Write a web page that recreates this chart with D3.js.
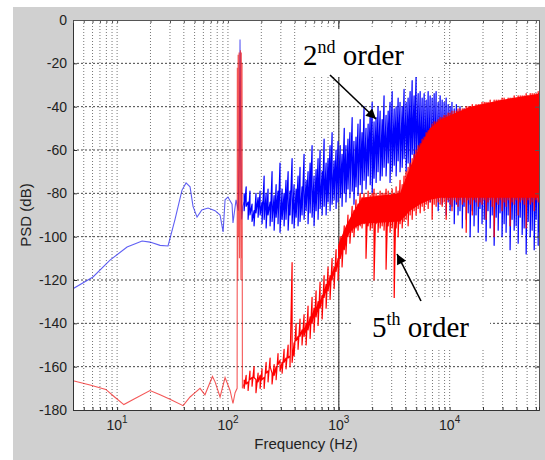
<!DOCTYPE html>
<html><head><meta charset="utf-8">
<script src="https://cdn.jsdelivr.net/npm/d3@7"></script>
<style>body{margin:0;background:#fff}svg{display:block}</style>
</head><body><svg id="c" width="545" height="460"></svg>
<script>
// ---------- data ----------
const yTicks = [0,-20,-40,-60,-80,-100,-120,-140,-160,-180];
const xTickExps = [1,2,3,4];
const xDomain = [4, 64000];

// 2nd order (blue), low-frequency part [Hz, dB]
const blueLow = [[4.0,-124],[6.06,-118.6],[8.63,-110.8],[12.3,-104.8],[16.8,-102],[19.8,-102.5],[24.4,-104],[28.8,-104.3],[33.3,-92],[38.5,-78.5],[41.9,-75.2],[45.5,-77],[48.4,-86],[52.6,-91],[58.1,-87.7],[66.1,-86.8],[76.5,-88],[84.9,-90],[90.4,-97.8],[94.2,-83],[100,-81.7],[108.9,-85],[111,-93.7],[118.3,-83],[124,-88],[126.5,-60],[128.5,-9],[130.5,-60],[133,-92],[136,-86],[140,-84]];
// 5th order (red), low-frequency part [Hz, dB]
const redLow = [[4.0,-166.5],[5.7,-168.5],[7.9,-170.5],[9.5,-174],[11.5,-177.5],[14.1,-175],[19.8,-171],[24.4,-173],[30,-175],[39.4,-178],[45.5,-174],[50.5,-172],[56,-170],[62,-173],[72.5,-164.5],[76.5,-167],[84.9,-174],[94.2,-165],[104.5,-171],[111,-177],[116,-172],[121,-170],[121.5,-22],[122.5,-120],[123.5,-16],[125,-100],[126,-15],[127,-110],[129.5,-14],[131,-120],[132,-15],[133,-110],[134,-20],[135,-170],[140,-168]];

// noisy part: common frequency bins [Hz] with max / min level per bin [dB]
const noiseFreqs = [140,146,152,158,165,172,179,187,195,203,212,221,230,240,250,261,272,283,295,308,321,334,349,363,379,395,412,429,447,466,486,507,528,551,574,598,624,650,678,707,737,768,800,834,870,907,945,985,1030,1070,1120,1160,1210,1260,1320,1370,1430,1490,1560,1620,1690,1760,1840,1920,2000,2080,2170,2260,2360,2460,2560,2670,2790,2900,3030,3160,3290,3430,3570,3730,3880,4050,4220,4400,4590,4780,4980,5200,5420,5650,5890,6140,6400,6670,6950,7250,7550,7880,8210,8560,8920,9300,9700,10100,10500,11000,11500,11900,12400,13000,13500,14100,14700,15300,16000,16600,17300,18100,18800,19600,20500,21300,22200,23200,24200,25200,26300,27400,28500,29700,31000,32300,33700,35100,36600,38200,39800,41500,43300,45100,47000,49000,51100,53300,55500,57900,60300,62900,64000];
const blueHi = [-80,-77,-84,-79,-85,-88,-80,-82,-79,-84,
 -72,-80,-78,-84,-70,-81,-76,-79,-66,-78,
 -80,-74,-70,-79,-64,-76,-78,-72,-68,-77,
 -62,-74,-70,-66,-58,-72,-69,-64,-60,-70,
 -55,-66,-64,-58,-52,-65,-60,-56,-58,-62,
 -50,-58,-55,-52,-45,-56,-54,-48,-46,-52,
 -40,-50,-48,-44,-38,-47,-45,-40,-42,-46,
 -35,-44,-42,-38,-33,-41,-40,-36,-38,-40,
 -32,-38,-36,-33,-28,-35,-26,-34,-33,-36,
 -34,-37,-33,-35,-36,-34,-33,-38,-35,-37,
 -38,-36,-39,-40,-38,-41,-39,-42,-40,-42,
 -41,-43,-42,-44,-42,-43,-44,-45,-43,-44,
 -44,-45,-43,-46,-44,-45,-46,-44,-45,-46,
 -45,-46,-44,-47,-45,-46,-47,-45,-46,-47,
 -46,-47,-45,-48,-46,-47,-48,-46,-47];
const blueLo = [-88,-86,-92,-90,-93,-95,-89,-91,-90,-94,
 -92,-96,-90,-95,-93,-97,-91,-94,-98,-92,
 -95,-92,-97,-90,-94,-96,-91,-95,-93,-90,
 -92,-88,-94,-89,-91,-95,-88,-92,-87,-90,
 -86,-90,-84,-88,-85,-83,-87,-84,-82,-86,
 -80,-84,-78,-82,-79,-85,-77,-81,-76,-80,
 -74,-78,-72,-76,-80,-73,-75,-70,-74,-72,
 -68,-72,-66,-75,-70,-67,-72,-65,-70,-68,
 -64,-70,-66,-72,-62,-68,-65,-74,-70,-76,
 -72,-80,-75,-84,-78,-82,-76,-88,-80,-85,
 -82,-90,-84,-88,-86,-94,-85,-90,-88,-96,
 -86,-92,-89,-100,-88,-95,-90,-98,-87,-94,
 -92,-102,-88,-96,-90,-104,-91,-97,-89,-100,
 -94,-98,-90,-106,-92,-97,-95,-103,-91,-99,
 -96,-108,-93,-100,-97,-106,-92,-104,-98];
const redHi = [-166,-164,-167,-162,-165,-160,-166,-163,-164,-161,
 -165,-158,-162,-156,-163,-159,-160,-154,-157,-158,
 -152,-156,-150,-155,-112,-149,-140,-146,-138,-143,
 -136,-140,-132,-137,-128,-133,-125,-130,-121,-127,
 -118,-122,-114,-118,-110,-114,-106,-110,-100,-104,
 -95,-98,-90,-93,-86,-88,-83,-85,-80,-82,
 -80,-82,-79,-81,-80,-78,-80,-81,-79,-80,
 -80,-78,-79,-81,-78,-80,-77,-79,-74,-76,
 -72,-70,-68,-66,-64,-62,-60,-58,-57,-55,
 -54,-52,-51,-50,-48,-47,-47,-46,-45,-45,
 -44,-44,-43,-43,-42,-42,-42,-41,-41,-41,
 -41,-40,-40,-40,-39,-40,-39,-39,-39,-38,
 -38,-38,-38,-37,-38,-37,-37,-37,-37,-36,
 -36,-37,-36,-36,-36,-35,-36,-35,-35,-35,
 -35,-34,-35,-34,-34,-34,-34,-33,-34];
const redLo = [-170,-168,-171,-166,-169,-165,-172,-167,-170,-166,
 -170,-163,-167,-160,-168,-164,-166,-159,-162,-163,
 -158,-161,-156,-160,-158,-155,-148,-152,-146,-150,
 -146,-150,-143,-147,-140,-144,-137,-141,-133,-138,
 -128,-133,-125,-129,-120,-124,-116,-120,-110,-114,
 -106,-108,-100,-103,-98,-100,-96,-97,-95,-96,
 -94,-110,-95,-97,-96,-120,-94,-98,-96,-95,
 -97,-115,-95,-98,-96,-129,-96,-100,-94,-96,
 -93,-92,-95,-90,-92,-88,-90,-87,-89,-86,
 -88,-85,-87,-84,-92,-85,-86,-84,-85,-86,
 -84,-92,-83,-85,-88,-83,-84,-86,-83,-85,
 -84,-98,-83,-85,-90,-83,-84,-86,-84,-85,
 -83,-92,-84,-83,-86,-100,-84,-85,-83,-88,
 -84,-86,-83,-95,-84,-85,-83,-90,-84,-83,
 -85,-96,-83,-85,-84,-88,-83,-84,-83];
// dense core of the red band [Hz, upper dB, lower dB]
const redBand = [[985,-104,-110],[1160,-95,-100],[1370,-88,-96],[1620,-82,-94],[3570,-80,-93],[4400,-68,-88],[5420,-58,-85],[6670,-50,-83],[8210,-46,-82],[10100,-44,-82],[15300,-40,-82],[28500,-37,-82],[64000,-34,-82]];

// ---------- drawing ----------
const svg = d3.select("#c");
const L=73, R=539, T=20, B=410;
const x = d3.scaleLog().domain(xDomain).range([L,R]);
const y = d3.scaleLinear().domain([-180,0]).range([B,T]);
const FONT = "Liberation Sans, Arial, sans-serif";

svg.append("rect").attr("x",13).attr("y",7).attr("width",532).attr("height",453).attr("fill","#d0d0d0");
svg.append("rect").attr("x",L).attr("y",T).attr("width",R-L).attr("height",B-T).attr("fill","#fff");

// grid
const minor = [];
for (let e=0;e<=4;e++) for (let d=1;d<=9;d++){ const v=d*Math.pow(10,e); if (v>xDomain[0] && v<xDomain[1]) minor.push(v); }
const g = svg.append("g");
g.selectAll("line.vg").data(minor).join("line")
 .attr("x1",d=>x(d)).attr("x2",d=>x(d)).attr("y1",T).attr("y2",B)
 .attr("stroke","#777").attr("stroke-width",1).attr("stroke-dasharray","1,2");
g.selectAll("line.hg").data(yTicks.slice(1,-1)).join("line")
 .attr("x1",L).attr("x2",R).attr("y1",d=>y(d)).attr("y2",d=>y(d))
 .attr("stroke","#444").attr("stroke-width",1).attr("stroke-dasharray","2,2");
svg.append("line").attr("x1",x(1000)).attr("x2",x(1000)).attr("y1",T).attr("y2",B).attr("stroke","#444").attr("stroke-width",1.2);

const line = d3.line().x(d=>x(d[0])).y(d=>y(d[1]));
const area = d3.area().x(d=>x(d[0])).y0(d=>y(d[2])).y1(d=>y(d[1]));
// each bin drawn as its max->min excursion, bins joined in order
const trace = (hi,lo)=> noiseFreqs.flatMap((f,i)=>[[f,hi[i]],[f,lo[i]]]);

svg.append("clipPath").attr("id","pc").append("rect").attr("x",L).attr("y",T).attr("width",R-L).attr("height",B-T);
const data = svg.append("g").attr("clip-path","url(#pc)");
data.append("path").datum(blueLow).attr("d",line).attr("fill","none").attr("stroke","#2a2af0").attr("stroke-opacity",0.75).attr("stroke-width",1.1);
data.append("path").datum(trace(blueHi,blueLo)).attr("d",line).attr("fill","none").attr("stroke","#0000ff").attr("stroke-width",1.2).attr("stroke-linejoin","round");
data.append("path").datum(redLow).attr("d",line).attr("fill","none").attr("stroke","#f01010").attr("stroke-opacity",0.7).attr("stroke-width",1.1);
data.append("path").datum(redBand).attr("d",area).attr("fill","#ff0000");
data.append("path").datum(trace(redHi,redLo)).attr("d",line).attr("fill","none").attr("stroke","#ff0000").attr("stroke-width",1.2).attr("stroke-linejoin","round");

// axes
const ya = svg.append("g").attr("transform",`translate(${L},0)`)
 .call(d3.axisLeft(y).tickValues(yTicks).tickSize(-4).tickPadding(6).tickFormat(d=>String(d)));
ya.select(".domain").attr("stroke","#333");
ya.selectAll("text").attr("font-family",FONT).attr("font-size",14).attr("fill","#222");
ya.selectAll(".tick line").attr("stroke","#333");
const ya2 = svg.append("g").attr("transform",`translate(${R},0)`)
 .call(d3.axisRight(y).tickValues(yTicks).tickSize(-4).tickFormat(""));
ya2.selectAll("line,path").attr("stroke","#555");
const xa = svg.append("g").attr("transform",`translate(0,${B})`)
 .call(d3.axisBottom(x).tickValues(minor).tickSize(-3).tickFormat(""));
xa.selectAll("line,path").attr("stroke","#333");
const xa2 = svg.append("g").attr("transform",`translate(0,${T})`)
 .call(d3.axisTop(x).tickValues(minor).tickSize(-3).tickFormat(""));
xa2.selectAll("line,path").attr("stroke","#555");

const xl = svg.selectAll("text.xl").data(xTickExps).join("text")
 .attr("x",d=>x(Math.pow(10,d))).attr("y",430).attr("text-anchor","middle")
 .attr("font-family",FONT).attr("font-size",14).attr("fill","#222");
xl.append("tspan").text("10");
xl.append("tspan").attr("dy",-7).attr("font-size",10).text(d=>d);

svg.append("text").attr("x",(L+R)/2).attr("y",449).attr("text-anchor","middle")
 .attr("font-family",FONT).attr("font-size",15).attr("fill","#222").text("Frequency (Hz)");
svg.append("text").attr("transform",`translate(31,${(T+B)/2}) rotate(-90)`).attr("text-anchor","middle")
 .attr("font-family",FONT).attr("font-size",15).attr("fill","#222").text("PSD (dB)");

// annotations
const defs = svg.append("defs");
defs.append("marker").attr("id","ah").attr("viewBox","0 0 10 10").attr("refX",10).attr("refY",5)
 .attr("markerWidth",13).attr("markerHeight",10).attr("markerUnits","userSpaceOnUse").attr("orient","auto")
 .append("path").attr("d","M0,0 L10,5 L0,10 z").attr("fill","#000");

function label(bx,by,bw,bh,tx,ty,main,sup){
  svg.append("rect").attr("x",bx).attr("y",by).attr("width",bw).attr("height",bh).attr("fill","#fff");
  const t = svg.append("text").attr("x",tx).attr("y",ty).attr("font-family","Liberation Serif, Times New Roman, serif").attr("font-size",29).attr("fill","#000");
  t.append("tspan").text(main);
  t.append("tspan").attr("dy",-12).attr("font-size",18).text(sup);
  t.append("tspan").attr("dy",12).text(" order");
}
label(296,29,147,48,303,65,"2","nd");
label(353,298,137,50,372,337,"5","th");
svg.append("line").attr("x1",330).attr("y1",75).attr("x2",376).attr("y2",119).attr("stroke","#000").attr("stroke-width",1.6).attr("marker-end","url(#ah)");
svg.append("line").attr("x1",421).attr("y1",301).attr("x2",397).attr("y2",254).attr("stroke","#000").attr("stroke-width",1.6).attr("marker-end","url(#ah)");
</script></body></html>
